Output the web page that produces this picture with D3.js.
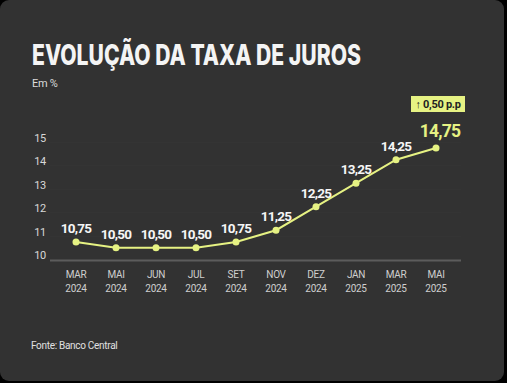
<!DOCTYPE html>
<html><head><meta charset="utf-8">
<script src="https://cdn.jsdelivr.net/npm/d3@7"></script>
<style>html,body{margin:0;padding:0;background:#000;}svg{display:block;}</style>
</head><body>
<svg id="c" width="507" height="383"></svg>
<script>
const months = ["MAR","MAI","JUN","JUL","SET","NOV","DEZ","JAN","MAR","MAI"];
const years = ["2024","2024","2024","2024","2024","2024","2024","2025","2025","2025"];
const rates = [10.75,10.50,10.50,10.50,10.75,11.25,12.25,13.25,14.25,14.75];
const yTicks = [10,11,12,13,14,15];
const valueLabels = ["10,75","10,50","10,50","10,50","10,75","11,25","12,25","13,25","14,25","14,75"];
const title = "EVOLUÇÃO DA TAXA DE JUROS";
const subtitle = "Em %";
const source = "Fonte: Banco Central";
const annotation = "↑ 0,50 p.p";

const svg = d3.select("#c");
const ACC = "#e6f283";
svg.append("rect").attr("x",0).attr("y",0).attr("width",504).attr("height",381).attr("rx",9).attr("fill","#323232");

const ids = d3.range(rates.length);
const x = d3.scalePoint().domain(ids).range([76,436]);
const y = d3.scaleLinear().domain([10,15]).range([259.6,142.1]);

svg.append("text").attr("x",32).attr("y",65).text(title)
  .attr("font-family","Inter, 'Liberation Sans', sans-serif").attr("font-weight",800)
  .attr("font-size",28).attr("fill","#f4f4f4")
  .attr("textLength",329).attr("lengthAdjust","spacingAndGlyphs");
svg.append("text").attr("x",32).attr("y",87).text(subtitle)
  .attr("font-family","Roboto, sans-serif").attr("font-size",11).attr("fill","#dcdcdc")
  .attr("letter-spacing",-0.3);

// faint gridlines
svg.append("g").selectAll("line").data(yTicks.slice(1)).join("line")
  .attr("x1",50).attr("x2",461).attr("y1",d=>y(d)).attr("y2",d=>y(d))
  .attr("stroke","#363636").attr("stroke-width",1);

// y tick labels
svg.append("g").selectAll("text").data(yTicks).join("text")
  .attr("x",40).attr("y",d=>y(d)-4).attr("dy","0.35em").attr("text-anchor","middle")
  .text(d=>d).attr("font-family","Roboto, sans-serif").attr("font-size",11)
  .attr("fill","#d8d8d8").attr("letter-spacing",-0.5);

// baseline
svg.append("line").attr("x1",50).attr("x2",461).attr("y1",y(10)+1).attr("y2",y(10)+1)
  .attr("stroke","#5c5c5c").attr("stroke-width",2);

// x labels
const xl = svg.append("g").selectAll("text").data(ids).join("text")
  .attr("x",d=>x(d)).attr("text-anchor","middle")
  .attr("font-family","Roboto, sans-serif").attr("font-size",10).attr("fill","#cfcfcf")
  .attr("letter-spacing",-0.3);
xl.append("tspan").attr("x",d=>x(d)).attr("y",278).text(d=>months[d]);
xl.append("tspan").attr("x",d=>x(d)).attr("y",292).text(d=>years[d]);

// line
svg.append("path").datum(ids)
  .attr("d",d3.line().x(d=>x(d)).y(d=>y(rates[d])))
  .attr("fill","none").attr("stroke",ACC).attr("stroke-width",2);
svg.append("g").selectAll("circle").data(ids).join("circle")
  .attr("cx",d=>x(d)).attr("cy",d=>y(rates[d])).attr("r",3.5).attr("fill",ACC);

// value labels
const last = rates.length-1;
svg.append("g").selectAll("text").data(ids).join("text")
  .attr("x",d=>x(d)+(d===last?4:0)).attr("y",d=>y(rates[d])-(d===last?11:9))
  .attr("text-anchor","middle").text(d=>valueLabels[d])
  .attr("font-family","Roboto, sans-serif").attr("font-weight",700)
  .attr("font-size",d=>d===last?17.5:13.5).attr("letter-spacing",-0.8)
  .attr("fill",d=>d===last?ACC:"#f6f6f6");

// annotation
const ax = x(last)+1;
svg.append("rect").attr("x",ax-26).attr("y",96).attr("width",54).attr("height",16).attr("fill",ACC);
svg.append("text").attr("x",ax+1).attr("y",108).attr("text-anchor","middle").text(annotation)
  .attr("font-family","Roboto, sans-serif").attr("font-weight",700).attr("font-size",11)
  .attr("fill","#222").attr("letter-spacing",-0.3);

svg.append("text").attr("x",31).attr("y",349).text(source)
  .attr("font-family","Roboto, sans-serif").attr("font-size",10).attr("fill","#e0e0e0")
  .attr("letter-spacing",-0.3);
</script>
</body></html>
